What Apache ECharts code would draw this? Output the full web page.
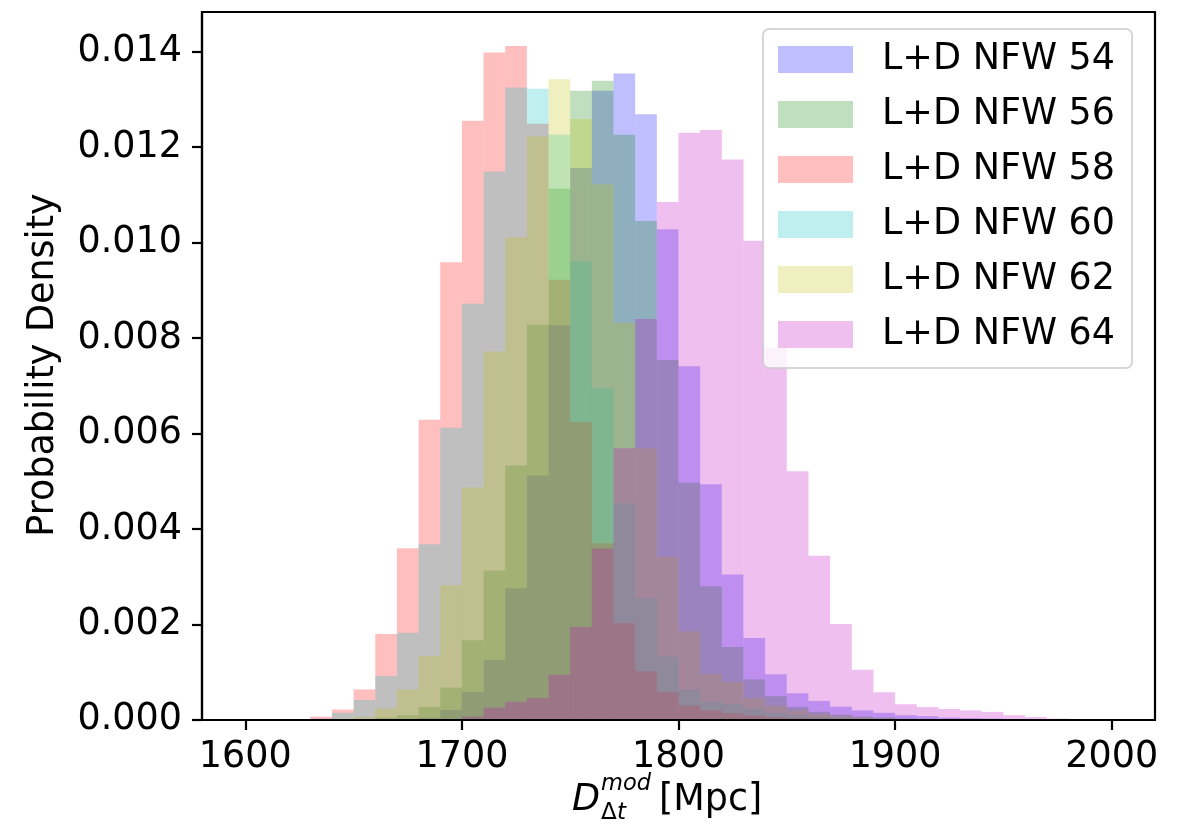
<!DOCTYPE html>
<html>
<head>
<meta charset="utf-8">
<script src="https://cdn.jsdelivr.net/npm/echarts@6/dist/echarts.min.js"></script>
<style>
html,body{margin:0;padding:0;background:#fff;}
#chart{width:1189px;height:831px;}
</style>
</head>
<body>
<div id="chart"></div>
<script>
// ---- data ----
const binEdges = [1600,1610,1620,1630,1640,1650,1660,1670,1680,1690,1700,1710,1720,1730,1740,1750,1760,1770,1780,1790,
                  1800,1810,1820,1830,1840,1850,1860,1870,1880,1890,1900,1910,1920,1930,1940,1950,1960,1970,1980,1990,2000];
const xTicks = [1600,1700,1800,1900,2000];
const yTicks = [0,0.002,0.004,0.006,0.008,0.010,0.012,0.014];
const seriesNames = ['L+D NFW 54','L+D NFW 56','L+D NFW 58','L+D NFW 60','L+D NFW 62','L+D NFW 64'];

const nfw54 = [0,0,0,0,0,0,0.00001,0.00002,0.00005,0.00021,0.00059,0.00126,0.00276,0.00512,0.00827,0.01156,0.01318,0.01354,0.01269,0.01028,
               0.00741,0.00494,0.00305,0.00172,0.00096,0.00056,0.00040,0.00028,0.00020,0.00015,0.00010,0.00008,0.00005,0.00004,0.00003,0.00002,0.00001,0,0,0];
const nfw56 = [0,0,0,0,0,0.00002,0.00005,0.00010,0.00027,0.00068,0.00167,0.00313,0.00533,0.00828,0.01113,0.01318,0.01339,0.01226,0.01045,0.00754,
               0.00497,0.00280,0.00153,0.00085,0.00050,0.00027,0.00017,0.00011,0.00007,0.00005,0.00003,0.00002,0.00001,0,0,0,0,0,0,0];
const nfw58 = [0,0,0.00002,0.00007,0.00022,0.00064,0.00180,0.00360,0.00629,0.00959,0.01255,0.01398,0.01412,0.01249,0.00922,0.00624,0.00370,0.00203,0.00102,0.00058,
               0.00030,0.00020,0.00014,0.00009,0.00006,0.00004,0.00003,0.00002,0.00001,0,0,0,0,0,0,0,0,0,0,0];
const nfw60 = [0,0,0,0.00003,0.00015,0.00042,0.00092,0.00183,0.00368,0.00612,0.00872,0.01149,0.01325,0.01322,0.01226,0.00961,0.00695,0.00454,0.00255,0.00133,
               0.00063,0.00038,0.00033,0.00024,0.00015,0.00010,0.00006,0.00004,0.00002,0.00001,0,0,0,0,0,0,0,0,0,0];
const nfw62 = [0,0,0,0,0.00003,0.00006,0.00024,0.00064,0.00134,0.00282,0.00487,0.00772,0.01011,0.01222,0.01342,0.01259,0.01122,0.00832,0.00569,0.00342,
               0.00186,0.00097,0.00080,0.00046,0.00030,0.00020,0.00012,0.00008,0.00005,0.00003,0.00002,0.00001,0,0,0,0,0,0,0,0];
const nfw64 = [0,0,0,0,0,0,0,0,0,0.00002,0.00007,0.00026,0.00038,0.00046,0.00095,0.00195,0.00359,0.00569,0.00840,0.01085,
               0.01230,0.01236,0.01174,0.01004,0.00780,0.00521,0.00344,0.00201,0.00105,0.00058,0.00033,0.00027,0.00023,0.00020,0.00017,0.00010,0.00006,0.00003,0.00001,0];

// ---- styles ----
const FONT = '"DejaVu Sans", sans-serif';
const FS = 36.5;
const fillColors = ['rgba(0,0,255,0.25)','rgba(0,128,0,0.25)','rgba(255,0,0,0.25)','rgba(0,191,191,0.25)','rgba(191,191,0,0.25)','rgba(191,0,191,0.25)'];
const legendColors = ['#bfbfff','#bfdfbf','#ffbfbf','#bfefef','#efefbf','#efbfef'];
const allValues = [nfw54,nfw56,nfw58,nfw60,nfw62,nfw64];

function histSeries(name, values, color) {
  return {
    type: 'custom',
    name: name,
    silent: true,
    clip: true,
    itemStyle: {color: color},
    encode: {x: [0, 1], y: 2},
    data: values.map((v, i) => [binEdges[i], binEdges[i + 1], v]),
    renderItem: function (params, api) {
      const tl = api.coord([api.value(0), api.value(2)]);
      const br = api.coord([api.value(1), 0]);
      return {
        type: 'rect',
        shape: {x: tl[0], y: tl[1], width: br[0] - tl[0], height: br[1] - tl[1]},
        style: {fill: color}
      };
    }
  };
}

const chart = echarts.init(document.getElementById('chart'), null, {renderer: 'canvas'});
chart.setOption({
  animation: false,
  backgroundColor: '#ffffff',
  grid: {left: 202, top: 12, width: 953, height: 708, show: true, borderColor: '#000', borderWidth: 2.2, backgroundColor: 'transparent'},
  xAxis: {
    type: 'value', min: 1580, max: 2020, z: 10,
    axisLine: {show: true, onZero: false, lineStyle: {color: '#000', width: 2.2}},
    axisTick: {show: true, customValues: xTicks, length: 10, inside: false, lineStyle: {color: '#000', width: 2.2}},
    axisLabel: {show: true, customValues: xTicks, margin: 19, color: '#000', fontFamily: FONT, fontSize: FS,
                formatter: v => String(v)},
    splitLine: {show: false}, minorTick: {show: false}
  },
  yAxis: {
    type: 'value', min: 0, max: 0.01483, z: 10,
    axisLine: {show: true, onZero: false, lineStyle: {color: '#000', width: 2.2}},
    axisTick: {show: true, customValues: yTicks, length: 10, inside: false, lineStyle: {color: '#000', width: 2.2}},
    axisLabel: {show: true, customValues: yTicks, margin: 20, color: '#000', fontFamily: FONT, fontSize: FS,
                formatter: v => Number(v).toFixed(3)},
    splitLine: {show: false}, minorTick: {show: false}
  },
  legend: {
    orient: 'vertical', left: 763, top: 29, selectedMode: false,
    icon: 'rect', itemWidth: 75, itemHeight: 27, itemGap: 18,
    padding: [12, 17, 15, 15],
    backgroundColor: 'rgba(255,255,255,0.8)', borderColor: 'rgba(204,204,204,0.8)', borderWidth: 2, borderRadius: 6,
    textStyle: {fontFamily: FONT, fontSize: FS, color: '#000', padding: [0, 0, 0, 24]},
    data: seriesNames.map((n, i) => ({name: n, itemStyle: {color: legendColors[i], opacity: 1, borderWidth: 0}}))
  },
  graphic: [
    {type: 'text', x: 44, y: 365, rotation: Math.PI / 2,
     style: {text: 'Probability Density', font: FS + 'px ' + FONT, fill: '#000', align: 'center', verticalAlign: 'middle'}},
    {type: 'text', x: 572, y: 801,
     style: {text: 'D', font: 'italic ' + FS + 'px ' + FONT, fill: '#000', align: 'left', verticalAlign: 'middle'}},
    {type: 'text', x: 601, y: 784,
     style: {text: 'mod', font: 'italic 22.5px ' + FONT, fill: '#000', align: 'left', verticalAlign: 'middle'}},
    {type: 'text', x: 601, y: 813,
     style: {text: 'Δ', font: '23px ' + FONT, fill: '#000', align: 'left', verticalAlign: 'middle'}},
    {type: 'text', x: 617, y: 813,
     style: {text: 't', font: 'italic 23px ' + FONT, fill: '#000', align: 'left', verticalAlign: 'middle'}},
    {type: 'text', x: 659, y: 801,
     style: {text: '[Mpc]', font: FS + 'px ' + FONT, fill: '#000', align: 'left', verticalAlign: 'middle'}}
  ],
  series: seriesNames.map((n, i) => histSeries(n, allValues[i], fillColors[i]))
});
</script>
</body>
</html>
